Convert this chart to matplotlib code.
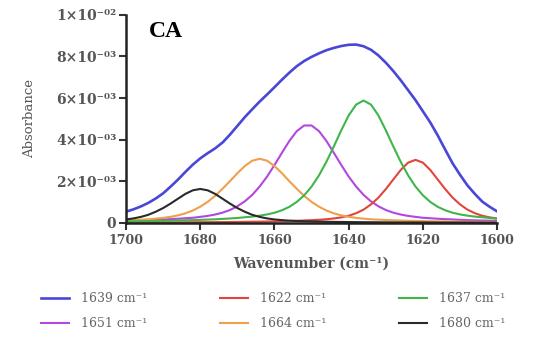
import numpy as np
import matplotlib.pyplot as plt

# wavenumber grid (cm-1), values in units of 1e-3
wn = np.arange(1700, 1599, -2)

env_1639 = [0.54, 0.65, 0.79, 0.96, 1.17, 1.42, 1.74, 2.08, 2.45, 2.80,
            3.10, 3.35, 3.58, 3.86, 4.24, 4.66, 5.08, 5.46, 5.83, 6.17,
            6.52, 6.88, 7.22, 7.53, 7.78, 7.98, 8.15, 8.30, 8.41, 8.50,
            8.56, 8.57, 8.49, 8.32, 8.05, 7.70, 7.30, 6.86, 6.38, 5.90,
            5.36, 4.82, 4.20, 3.52, 2.86, 2.31, 1.80, 1.39, 1.02, 0.77,
            0.55]
pk_1622 = [0.018, 0.018, 0.020, 0.021, 0.022, 0.023, 0.025, 0.026, 0.028, 0.030,
           0.032, 0.034, 0.037, 0.039, 0.042, 0.046, 0.050, 0.055, 0.059, 0.065,
           0.072, 0.080, 0.088, 0.100, 0.115, 0.130, 0.148, 0.176, 0.212, 0.264,
           0.342, 0.464, 0.636, 0.888, 1.212, 1.624, 2.082, 2.539, 2.894, 3.030,
           2.894, 2.539, 2.082, 1.624, 1.212, 0.888, 0.636, 0.464, 0.342, 0.264,
           0.212]
pk_1637 = [0.071, 0.074, 0.079, 0.085, 0.091, 0.097, 0.105, 0.112, 0.122, 0.132,
           0.144, 0.159, 0.171, 0.191, 0.212, 0.235, 0.270, 0.300, 0.347, 0.406,
           0.488, 0.606, 0.770, 1.005, 1.323, 1.746, 2.287, 2.940, 3.679, 4.451,
           5.166, 5.686, 5.880, 5.686, 5.166, 4.451, 3.679, 2.940, 2.287, 1.746,
           1.323, 1.005, 0.770, 0.606, 0.488, 0.406, 0.347, 0.300, 0.270, 0.235,
           0.212]
pk_1651 = [0.104, 0.113, 0.123, 0.132, 0.146, 0.165, 0.179, 0.198, 0.222, 0.245,
           0.288, 0.335, 0.401, 0.491, 0.618, 0.798, 1.034, 1.345, 1.746, 2.223,
           2.780, 3.365, 3.936, 4.408, 4.682, 4.682, 4.408, 3.936, 3.365, 2.780,
           2.223, 1.746, 1.345, 1.034, 0.798, 0.618, 0.491, 0.401, 0.335, 0.288,
           0.245, 0.222, 0.198, 0.179, 0.165, 0.146, 0.132, 0.123, 0.113, 0.104,
           0.099]
pk_1664 = [0.123, 0.139, 0.154, 0.172, 0.203, 0.240, 0.290, 0.360, 0.459, 0.594,
           0.776, 1.010, 1.297, 1.639, 2.005, 2.387, 2.732, 2.988, 3.080, 2.988,
           2.732, 2.387, 2.005, 1.639, 1.297, 1.010, 0.776, 0.594, 0.459, 0.360,
           0.290, 0.240, 0.203, 0.172, 0.154, 0.139, 0.123, 0.111, 0.100, 0.090,
           0.083, 0.077, 0.071, 0.066, 0.060, 0.056, 0.052, 0.049, 0.046, 0.043,
           0.041]
pk_1680 = [0.165, 0.214, 0.287, 0.388, 0.535, 0.712, 0.926, 1.162, 1.394, 1.565,
           1.630, 1.565, 1.394, 1.162, 0.926, 0.712, 0.535, 0.388, 0.287, 0.214,
           0.165, 0.131, 0.108, 0.090, 0.078, 0.068, 0.060, 0.054, 0.047, 0.044,
           0.039, 0.036, 0.033, 0.031, 0.028, 0.026, 0.024, 0.022, 0.021, 0.020,
           0.019, 0.018, 0.017, 0.016, 0.015, 0.014, 0.014, 0.013, 0.012, 0.012,
           0.011]

series = [
    ("1639 cm⁻¹", env_1639, "#4a46d8", 1.9),
    ("1651 cm⁻¹", pk_1651, "#b347e0", 1.5),
    ("1622 cm⁻¹", pk_1622, "#e2453b", 1.5),
    ("1664 cm⁻¹", pk_1664, "#eea04a", 1.5),
    ("1637 cm⁻¹", pk_1637, "#3fb54c", 1.5),
    ("1680 cm⁻¹", pk_1680, "#2a2a2a", 1.5),
]

yticks = [0, 0.002, 0.004, 0.006, 0.008, 0.010]
ytick_labels = ["0", "2×10⁻⁰³", "4×10⁻⁰³", "6×10⁻⁰³", "8×10⁻⁰³", "1×10⁻⁰²"]
xticks = [1700, 1680, 1660, 1640, 1620, 1600]

plt.rcParams['font.family'] = ['DejaVu Serif']

fig = plt.figure(figsize=(5.34, 3.45), dpi=100)
ax = fig.add_axes([0.236, 0.354, 0.695, 0.603])

handles = []
for label, vals, col, lw in series:
    h, = ax.plot(wn, np.array(vals) * 1e-3, color=col, lw=lw, label=label,
                 solid_joinstyle='round')
    handles.append(h)

ax.set_xlim(1700, 1600)
ax.set_ylim(0, 0.010)
ax.set_xticks(xticks)
ax.set_yticks(yticks)
ax.set_yticklabels(ytick_labels)
ax.tick_params(axis='both', labelsize=9, colors='#333333', width=1.5, length=5,
               labelcolor='#555555', pad=2)
ax.tick_params(axis='y', labelsize=10)
ax.tick_params(axis='x', pad=3)
for lab in ax.get_xticklabels() + ax.get_yticklabels():
    lab.set_fontweight('bold')
ax.spines['top'].set_visible(False)
ax.spines['right'].set_visible(False)
ax.spines['left'].set_linewidth(1.8)
ax.spines['bottom'].set_linewidth(1.8)
ax.spines['left'].set_color('#222222')
ax.spines['bottom'].set_color('#222222')

ax.set_xlabel("Wavenumber (cm⁻¹)", fontsize=10, fontweight='bold', color='#555555', labelpad=7)
ax.set_ylabel("Absorbance", fontsize=9.5, color='#555555')
ax.yaxis.set_label_coords(-0.243, 0.5)
ax.text(1693.8, 0.0092, "CA", fontsize=17, fontweight='bold', color='black',
        ha='left', va='center', family='Liberation Serif')

fig.legend(handles=handles, loc='center', bbox_to_anchor=(0.512, 0.0986), ncol=3,
           frameon=False, fontsize=9, handlelength=2.2, handletextpad=1.0,
           columnspacing=5.8, labelspacing=0.95, labelcolor='#666666')

fig.savefig("out.png", dpi=100)
